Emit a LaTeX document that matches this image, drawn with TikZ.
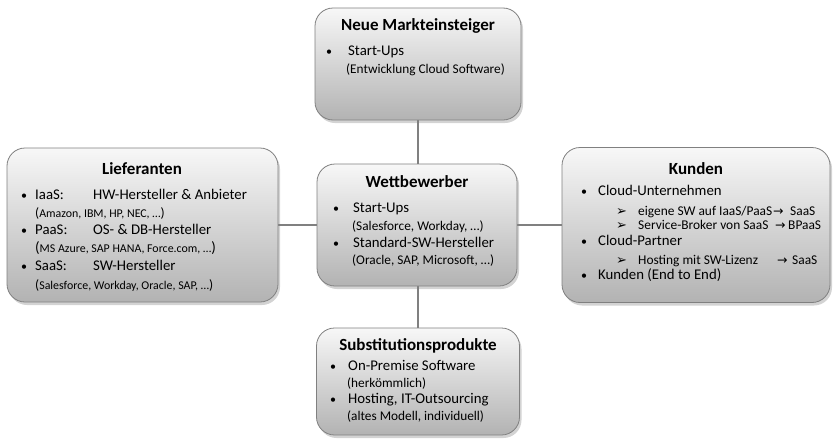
\documentclass[tikz,border=0pt]{standalone}
\usepackage{fontspec}
\setmainfont{Carlito}
\newfontfamily\symfont{DejaVu Sans}
\usetikzlibrary{shadows,backgrounds}
\begin{document}
\begin{tikzpicture}[x=1pt,y=-1pt,
  box/.style={draw=black!50, line width=0.8pt, rounded corners=18pt,
    top color=black!3, bottom color=black!30, inner sep=0pt,
    drop shadow={shadow xshift=2pt,shadow yshift=-3pt,opacity=0.35}},
  conn/.style={draw=black!50, line width=2.8pt},
  ttl/.style={anchor=mid, inner sep=0pt, font=\fontsize{17}{19}\selectfont\bfseries},
  body/.style={anchor=mid west, inner sep=0pt, font=\fontsize{14.8}{16}\selectfont},
  sub/.style={anchor=mid west, inner sep=0pt, font=\fontsize{13.4}{15}\selectfont},
  sml/.style={anchor=mid west, inner sep=0pt, font=\fontsize{13.3}{15}\selectfont},
  tiny/.style={anchor=mid west, inner sep=0pt, font=\fontsize{11.9}{13}\selectfont},
  bul/.style={anchor=mid west, inner sep=0pt, font=\fontsize{12}{14}\selectfont},
  chev/.style={anchor=mid west, inner sep=0pt, font=\symfont\fontsize{13}{14}\selectfont},
  arr/.style={anchor=mid west, inner sep=0pt, font=\symfont\fontsize{12.5}{14}\selectfont}]
\useasboundingbox (0,0) rectangle (834,442);
% boxes
\node[box, minimum width=206pt, minimum height=112pt] (T) at (418,64) {};
\node[box, minimum width=271pt, minimum height=154pt] (L) at (142.5,225) {};
\node[box, minimum width=200pt, minimum height=122pt] (C) at (417,225) {};
\node[box, minimum width=268pt, minimum height=155pt] (R) at (696,225) {};
\node[box, minimum width=203pt, minimum height=107pt] (B) at (418,381.5) {};
% connectors
\begin{scope}[on background layer]
\draw[conn] (T.south) -- (B.north);
\draw[conn] (L.east) -- (R.west);
\end{scope}
% top
\node[ttl] (Tt) at (418,28) {Neue Markteinsteiger};
\node[bul] (Tb1) at (326,53) {•};
\node[body] (Tx1) at (348,53) {Start-Ups};
\node[sml] (Tx2) at (346,71) {(Entwicklung Cloud Software)};
% left
\node[ttl] (Lt) at (142,172) {Lieferanten};
\node[bul] (Lb1) at (21,197) {•};
\node[body] (Lx1) at (35,197) {IaaS:};
\node[body] (Lx1b) at (93,197) {HW-Hersteller \& Anbieter};
\node[tiny] (Lx2) at (35,215) {{\fontsize{13.5}{14}\selectfont(}Amazon, IBM, HP, NEC, …{\fontsize{13.5}{14}\selectfont)}};
\node[bul] (Lb2) at (21,232) {•};
\node[body] (Lx3) at (35,232) {PaaS:};
\node[body] (Lx3b) at (93,232) {OS- \& DB-Hersteller};
\node[tiny] (Lx4) at (35,250) {{\fontsize{15}{16}\selectfont(}MS Azure, SAP HANA, Force.com, …{\fontsize{15}{16}\selectfont)}};
\node[bul] (Lb3) at (21,268) {•};
\node[body] (Lx5) at (35,268) {SaaS:};
\node[body] (Lx5b) at (93,268) {SW-Hersteller};
\node[tiny] (Lx6) at (35,287) {{\fontsize{13.5}{14}\selectfont(}Salesforce, Workday, Oracle, SAP, …{\fontsize{13.5}{14}\selectfont)}};
% center
\node[ttl] (Ct) at (417,185) {Wettbewerber};
\node[bul] (Cb1) at (333,210) {•};
\node[body] (Cx1) at (353,210) {Start-Ups};
\node[sml] (Cx2) at (352,228) {(Salesforce, Workday, …)};
\node[bul] (Cb2) at (333,245) {•};
\node[body] (Cx3) at (353,245) {Standard-SW-Hersteller};
\node[sml] (Cx4) at (352,262) {(Oracle, SAP, Microsoft, …)};
% right
\node[ttl] (Rt) at (696,172) {Kunden};
\node[bul] (Rb1) at (581,193) {•};
\node[body] (Rx1) at (598,193) {Cloud-Unternehmen};
\node[chev] (Rc1) at (616,213) {➢};
\node[sub] (Rx2) at (638,213) {eigene SW auf IaaS/PaaS};
\node[arr] (Ra2) at (773,213) {→};
\node[sub] (Rs2) at (790,213) {SaaS};
\node[chev] (Rc2) at (616,227) {➢};
\node[sub] (Rx3) at (638,227) {Service-Broker von SaaS};
\node[arr] (Ra3) at (775,227) {→};
\node[sub] (Rs3) at (788,227) {BPaaS};
\node[bul] (Rb2) at (581,243) {•};
\node[body] (Rx4) at (598,243) {Cloud-Partner};
\node[chev] (Rc3) at (616,262) {➢};
\node[sub] (Rx5) at (638,262) {Hosting mit SW-Lizenz};
\node[arr] (Ra5) at (777,262) {→};
\node[sub] (Rs5) at (792,262) {SaaS};
\node[bul] (Rb3) at (581,277) {•};
\node[body] (Rx6) at (598,277) {Kunden (End to End)};
% bottom
\node[ttl] (Bt) at (418,348) {Substitutionsprodukte};
\node[bul] (Bb1) at (330,368) {•};
\node[body] (Bx1) at (348,368) {On-Premise Software};
\node[sml] (Bx2) at (347,385) {(herkömmlich)};
\node[bul] (Bb2) at (330,401) {•};
\node[body] (Bx3) at (348,401) {Hosting, IT-Outsourcing};
\node[sml] (Bx4) at (347,418) {(altes Modell, individuell)};
\end{tikzpicture}
\end{document}
